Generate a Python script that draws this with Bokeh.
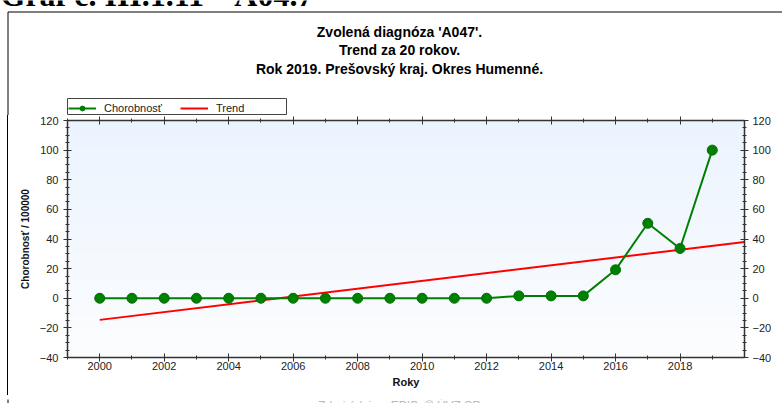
import numpy as np
from bokeh.plotting import figure
from bokeh.layouts import column
from bokeh.models import (LinearAxis, FixedTicker, Range1d, Label, Legend,
                          LegendItem, Span)
from bokeh.embed import file_html
from bokeh.resources import INLINE

# ---- data ----
years = [2000, 2001, 2002, 2003, 2004, 2005, 2006, 2007, 2008, 2009,
         2010, 2011, 2012, 2013, 2014, 2015, 2016, 2017, 2018, 2019]
chorobnost = [0.0, 0.0, 0.0, 0.0, 0.0, 0.0, 0.0, 0.0, 0.0, 0.0,
              0.0, 0.0, 0.0, 1.6, 1.6, 1.6, 19.2, 50.6, 33.6, 100.0]
trend_years = [2000, 2020]
trend_values = [-14.6, 38.0]

x_major = [2000, 2002, 2004, 2006, 2008, 2010, 2012, 2014, 2016, 2018]
x_minor = [1999, 2001, 2003, 2005, 2007, 2009, 2011, 2013, 2015, 2017, 2019]
y_major = [-40, -20, 0, 20, 40, 60, 80, 100, 120]
y_minor = list(range(-40, 121, 5))

page_heading = "Graf č. III.1.11 – A04.7"
title_lines = ["Zvolená diagnóza 'A047'.", "Trend za 20 rokov.",
               "Rok 2019. Prešovský kraj. Okres Humenné."]
y_label = "Chorobnosť / 100000"
x_label = "Roky"
source_text = "Zdroj údajov: EPIS, © ÚVZ SR"
series_names = ["Chorobnosť", "Trend"]

FONT = "Liberation Sans"
X0, X1, Y0, Y1 = 1999, 2020, -40, 120
W, H = 782, 403
HEAD_H = 115
MAIN_H = 280
FOOT_H = H - HEAD_H - MAIN_H
BOX_X, BOX_Y = 7.5, 11.5
NAN = float("nan")


def bare(fig):
    fig.xgrid.visible = False
    fig.ygrid.visible = False
    fig.outline_line_color = None
    fig.background_fill_color = "white"
    fig.border_fill_color = "white"
    fig.frame_align = False


def strip_fig(h):
    f = figure(width=W, height=h, x_range=Range1d(0, W), y_range=Range1d(h, 0),
               output_backend="svg", toolbar_location=None, title_location=None,
               x_axis_location=None, y_axis_location=None, min_border=0)
    bare(f)
    return f


# ---------------- header (titles + legend) ----------------
head = strip_fig(HEAD_H)
head.line([BOX_X, W + 5], [BOX_Y, BOX_Y], line_color="black", line_width=1)
head.line([BOX_X, BOX_X], [BOX_Y, HEAD_H + 1], line_color="black", line_width=1)

head.add_layout(Label(x=0, y=-6, text=page_heading, text_align="left",
                      text_baseline="alphabetic", text_font="Liberation Serif",
                      text_font_size="32px", text_font_style="bold", text_color="black"))
for txt, yy in zip(title_lines, [31, 49, 68]):
    head.add_layout(Label(x=399, y=yy, text=txt, text_align="center", text_baseline="middle",
                          text_font=FONT, text_font_size="14px", text_font_style="bold",
                          text_color="black"))

head.quad(left=67, right=286, top=98, bottom=114, fill_color="white",
          line_color="#444444", line_width=1)
lg_line = head.line([NAN], [NAN], line_color="#008000", line_width=2)
lg_dot = head.scatter([NAN], [NAN], size=10, fill_color="#008000", line_color="#007000")
lg_trend = head.line([NAN], [NAN], line_color="#ff0000", line_width=2)
legend = Legend(items=[LegendItem(label=series_names[0], renderers=[lg_line, lg_dot]),
                       LegendItem(label=series_names[1], renderers=[lg_trend])],
                orientation="horizontal", location=(68, 1))
legend.padding = 2
legend.margin = 0
legend.spacing = 18
legend.glyph_width = 28
legend.glyph_height = 12
legend.label_height = 12
legend.label_standoff = 8
legend.label_text_font = FONT
legend.label_text_font_size = "11px"
legend.label_text_color = "#222222"
legend.border_line_color = None
legend.background_fill_alpha = 0
head.add_layout(legend, "center")

# ---------------- main chart ----------------
p = figure(width=W, height=MAIN_H, x_range=Range1d(X0, X1), y_range=Range1d(Y0, Y1),
           output_backend="svg", toolbar_location=None, title_location=None,
           x_axis_location=None, y_axis_location=None,
           min_border_left=67, min_border_right=38, min_border_top=5, min_border_bottom=38)
bare(p)
p.border_fill_alpha = 0
# left edge of the surrounding box, drawn behind the transparent border area
p.styles = {"background-image": "linear-gradient(#000000, #000000)",
            "background-size": "1px 100%",
            "background-position": "7px 0px",
            "background-repeat": "no-repeat"}

n = 120
img = np.empty((n, 1), dtype=np.uint32)
v = img.view(dtype=np.uint8).reshape((n, 1, 4))
t = np.linspace(0, 1, n)
v[:, 0, 0] = (252 + (235 - 252) * t).astype(np.uint8)
v[:, 0, 1] = (253 + (244 - 253) * t).astype(np.uint8)
v[:, 0, 2] = (255 + (254 - 255) * t).astype(np.uint8)
v[:, 0, 3] = 255
p.image_rgba(image=[img], x=X0, y=Y0, dw=X1 - X0, dh=Y1 - Y0)

p.add_layout(Span(location=0, dimension="width", line_color="#666666",
                  line_width=1.5, level="underlay"))


def style_axis(ax, labels=True):
    ax.axis_line_color = "#333333"
    ax.axis_line_width = 1.5
    ax.major_tick_line_color = "#333333"
    ax.minor_tick_line_color = "#333333"
    ax.major_tick_in = 4
    ax.major_tick_out = 4
    ax.minor_tick_in = 2
    ax.minor_tick_out = 2
    ax.major_label_text_font = FONT
    ax.major_label_text_font_size = "11px" if labels else "0px"
    ax.major_label_text_color = "#222222"
    ax.axis_label_text_font = FONT
    ax.axis_label_text_font_style = "bold"
    ax.axis_label_text_color = "#111111"


left = LinearAxis(ticker=FixedTicker(ticks=y_major, minor_ticks=y_minor), axis_label=y_label)
style_axis(left)
left.major_label_standoff = 5
left.axis_label_standoff = 6
left.axis_label_text_font_size = "10px"
p.add_layout(left, "left")

right = LinearAxis(ticker=FixedTicker(ticks=y_major, minor_ticks=y_minor))
style_axis(right)
right.major_label_standoff = 4
p.add_layout(right, "right")

bottom = LinearAxis(ticker=FixedTicker(ticks=x_major, minor_ticks=x_minor), axis_label=x_label)
style_axis(bottom)
bottom.major_label_standoff = 0
bottom.axis_label_standoff = 3
bottom.axis_label_text_font_size = "11px"
p.add_layout(bottom, "below")

top = LinearAxis(ticker=FixedTicker(ticks=x_major, minor_ticks=x_minor))
style_axis(top, labels=False)
top.major_label_standoff = 0
p.add_layout(top, "above")

p.line(trend_years, trend_values, line_color="#ff0000", line_width=2)
p.line(years, chorobnost, line_color="#008000", line_width=2)
p.scatter(years, chorobnost, size=10, fill_color="#008000", line_color="#007000")

# ---------------- footer (source note) ----------------
foot = strip_fig(FOOT_H)
foot.line([BOX_X, BOX_X], [-1, FOOT_H + 1], line_color="black", line_width=1)
foot.add_layout(Label(x=399, y=-0.5, text=source_text, text_align="center", text_baseline="top",
                      text_font=FONT, text_font_size="12px", text_color="#b8b8b8"))

layout = column(head, p, foot, spacing=0)
open("out.html", "w").write(file_html(layout, INLINE))
